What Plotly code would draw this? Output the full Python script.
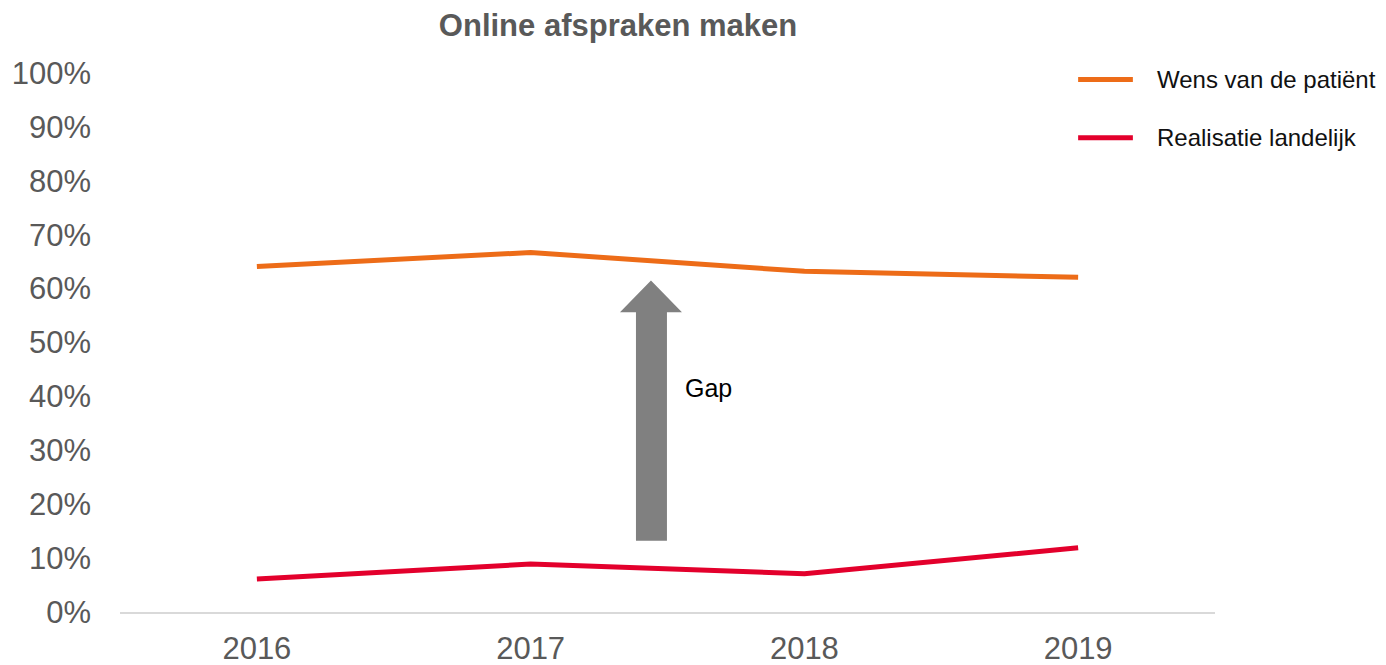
import plotly.graph_objects as go

years = ["2016", "2017", "2018", "2019"]
wens = [0.641, 0.667, 0.632, 0.621]
realisatie = [0.061, 0.089, 0.071, 0.119]
y_ticks = [0, 0.1, 0.2, 0.3, 0.4, 0.5, 0.6, 0.7, 0.8, 0.9, 1.0]
y_labels = [f"{int(round(v * 100))}%" for v in y_ticks]

ORANGE = "#ED6C18"
RED = "#E3002C"
FONT = "Liberation Sans, Arial, sans-serif"

fig = go.Figure()
fig.add_trace(go.Scatter(x=years, y=wens, mode="lines", name="Wens van de patiënt",
                         line=dict(color=ORANGE, width=5)))
fig.add_trace(go.Scatter(x=years, y=realisatie, mode="lines", name="Realisatie landelijk",
                         line=dict(color=RED, width=5)))

# gap arrow (block arrow between the two series)
fig.add_shape(
    type="path", xref="paper", yref="y",
    path="M 0.4712 0.132 L 0.4712 0.556 L 0.4566 0.556 L 0.4849 0.615 "
         "L 0.5132 0.556 L 0.4995 0.556 L 0.4995 0.132 Z",
    fillcolor="#808080", line=dict(width=0),
)
fig.add_annotation(x=0.514, y=0.415, xref="paper", yref="y", text="Gap",
                   showarrow=False, xanchor="left",
                   font=dict(size=25, color="#000000", family=FONT))

# legend drawn by hand to match the long line samples
legend_items = [("Wens van de patiënt", ORANGE, 0.988), ("Realisatie landelijk", RED, 0.880)]
for label, color, yy in legend_items:
    fig.add_shape(type="line", xref="paper", yref="paper", x0=0.875, x1=0.925, y0=yy, y1=yy,
                  line=dict(color=color, width=5))
    fig.add_annotation(x=0.945, y=yy, xref="paper", yref="paper", text=label,
                       showarrow=False, xanchor="left", yanchor="middle",
                       font=dict(size=24, color="#111111", family=FONT))

# page body adds an 8px offset, so margins are shifted to compensate
fig.update_layout(
    width=1378, height=665,
    paper_bgcolor="white", plot_bgcolor="white",
    margin=dict(l=112, r=171, t=65, b=61),
    showlegend=False,
    font=dict(family=FONT, color="#595959"),
    title=dict(text="<b>Online afspraken maken</b>", x=0.4427, xanchor="center",
               y=1 - 17 / 665, yanchor="middle",
               font=dict(size=31, color="#595959", family=FONT)),
)
fig.update_xaxes(range=[-0.5, 3.5], showline=True, linecolor="#d9d9d9", linewidth=2,
                 showgrid=False, zeroline=False, ticks="", automargin=False,
                 tickfont=dict(size=31, color="#595959"), ticklabelstandoff=8)
fig.update_yaxes(range=[0, 1], tickvals=y_ticks, ticktext=y_labels,
                 showgrid=False, zeroline=False, showline=False, ticks="", automargin=False,
                 tickfont=dict(size=31, color="#595959"), ticklabelstandoff=28)

fig.write_html("out.html")
